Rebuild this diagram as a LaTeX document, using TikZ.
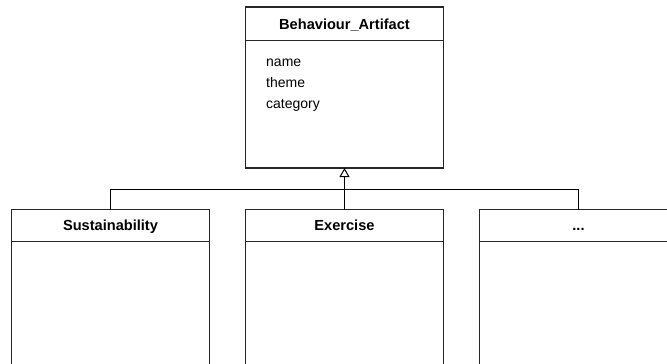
\documentclass[tikz,border=0pt]{standalone}
\usepackage{fontspec}
\setmainfont{Liberation Sans}
\usetikzlibrary{arrows.meta}
\begin{document}
\begin{tikzpicture}[x=1pt,y=-1pt,
  classbox/.style={draw=black!85, line width=1.1pt, fill=white, minimum width=198pt, inner sep=0pt, outer sep=0pt},
  title/.style={font=\fontsize{14.6}{17}\selectfont\bfseries, anchor=base, inner sep=0pt},
  attr/.style={font=\fontsize{14}{17}\selectfont, anchor=base west, inner sep=0pt},
  divider/.style={draw=black!85, line width=1.1pt},
  link/.style={draw=black, line width=1pt}]
  \useasboundingbox (0,0) rectangle (667,364);
  \clip (0,0) rectangle (667,364);

  % parent class
  \node[classbox, minimum height=161pt] (parent) at (344.5,87.5) {};
  \draw[divider] (245.5,40.5) -- (443.5,40.5);
  \node[title] (ptitle) at (344.5,29.5) {Behaviour\_Artifact};
  \node[attr] (a1) at (266,66) {name};
  \node[attr] (a2) at (266,87) {theme};
  \node[attr] (a3) at (266,108) {category};

  % child classes (bottoms run past the page edge)
  \node[classbox, minimum height=200pt] (c1) at (110.5,309.5) {};
  \node[classbox, minimum height=200pt] (c2) at (344.5,309.5) {};
  \node[classbox, minimum height=200pt] (c3) at (578.5,309.5) {};
  \draw[divider] (11.5,241.5) -- (209.5,241.5);
  \draw[divider] (245.5,241.5) -- (443.5,241.5);
  \draw[divider] (479.5,241.5) -- (677.5,241.5);
  \node[title] (t1) at (110.5,230) {Sustainability};
  \node[title] (t2) at (344.5,230) {Exercise};
  \node[title] (t3) at (578.5,230) {...};

  % generalisation
  \coordinate (bus) at (344.5,189.5);
  \draw[link] (c1.north) |- (bus) -| (c3.north);
  \draw[link, -{Triangle[open, width=10pt, length=9pt, line width=1pt]}] (c2.north) -- (parent.south);
\end{tikzpicture}
\end{document}
